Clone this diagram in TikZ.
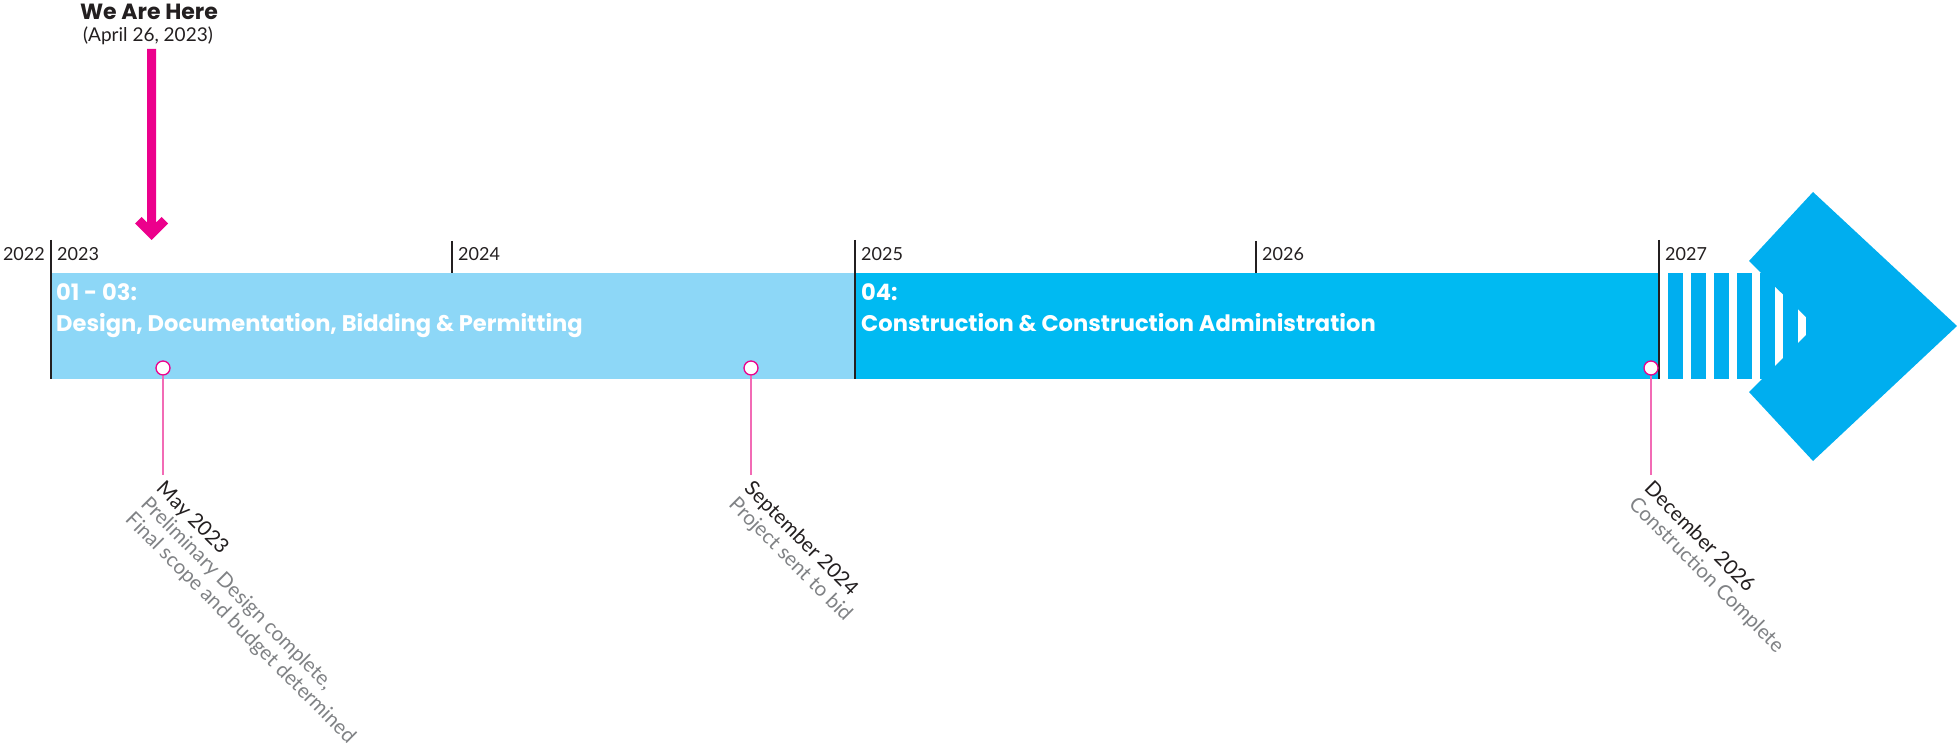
\documentclass[tikz,border=0pt]{standalone}
\usepackage{fontspec}
\setmainfont{Lato}
\newfontfamily\headfont{Poppins}
\usepackage{xcolor}
\usepackage{tikz}
\usetikzlibrary{arrows.meta}

\definecolor{paleblue}{HTML}{8DD7F7}
\definecolor{barblue}{HTML}{00BAF2}
\definecolor{deepblue}{HTML}{00AEEF}
\definecolor{hotpink}{HTML}{EC008C}
\definecolor{stempink}{HTML}{F26BB5}
\definecolor{inkgray}{HTML}{231F20}
\definecolor{notegray}{HTML}{808285}

\begin{document}
\begin{tikzpicture}[x=1pt,y=-1pt,
  tick/.style={draw=inkgray,line width=2pt},
  yearlbl/.style={font=\fontsize{18}{20}\selectfont,text=inkgray,inner sep=0pt},
  phase/.style={font=\headfont\bfseries\fontsize{22.6}{31}\selectfont,text=white,
    align=left,anchor=north west,inner sep=0pt},
  dot/.style={circle,draw=hotpink,fill=white,line width=1.3pt,minimum size=14pt,inner sep=0pt},
  stem/.style={draw=stempink,line width=2pt},
  note/.style={rotate=-45,anchor=north west,align=left,inner sep=0pt,
    font=\fontsize{20.5}{22}\selectfont,text=notegray}]
\useasboundingbox (0,0) rectangle (1957,746);
% Barras de las fases
\fill[paleblue] (51,273) rectangle (855,379);
\fill[barblue] (855,273) rectangle (1659,379);
% Rayas y punta de flecha
\foreach \x in {1668,1691,...,1830}{
  \fill[deepblue] (\x,273) rectangle ++(15,106);
}
\fill[deepblue] (1749,261) -- (1813,192) -- (1957,326) -- (1813,461)
  -- (1749,392) -- (1815,326) -- cycle;
% Marcas de los anios
\foreach \x/\yr in {51/2023,855/2025,1659/2027}{
  \draw[tick] (\x,240) -- (\x,379);
  \node[yearlbl,anchor=base west] (yr\yr) at (\x+6,260) {\yr};
}
\foreach \x/\yr in {452/2024,1256/2026}{
  \draw[tick] (\x,241) -- (\x,273);
  \node[yearlbl,anchor=base west] (yr\yr) at (\x+6,260) {\yr};
}
\node[yearlbl,anchor=base east] (yr2022) at (45,260) {2022};
% Textos de las fases
\node[phase] (design) at (56,283) {01 - 03:\\Design, Documentation, Bidding \& Permitting};
\node[phase] (build) at (861,283) {04:\\Construction \& Construction Administration};
% Estamos aqui
\node[font=\headfont\bfseries\fontsize{22}{24}\selectfont,text=inkgray,anchor=base,inner sep=0pt]
  (here) at (149,20) {We Are Here};
\node[font=\fontsize{19}{21}\selectfont,text=inkgray,anchor=base,inner sep=0pt]
  (hereday) at (148,42) {(April 26, 2023)};
\fill[hotpink] (147,49) -- (156,49) -- (156,222.5) -- (161.5,217) -- (168,223.5)
  -- (151.5,240) -- (135,223.5) -- (141.5,217) -- (147,222.5) -- cycle;
% Hitos
\foreach \x/\nm/\when/\what in {163/may/{May 2023}/{Preliminary Design complete,\\Final scope and budget determined},
    751/sep/{September 2024}/{Project sent to bid},
    1651/dec/{December 2026}/{Construction Complete}}{
  \node[note] (\nm txt) at (\x+3,479) {\textcolor{inkgray}{\when}\\\what};
  \node[dot] (\nm) at (\x,368) {};
  \draw[stem] (\nm.south) -- (\nm.south |- {(0,475)});
}
\end{tikzpicture}
\end{document}
